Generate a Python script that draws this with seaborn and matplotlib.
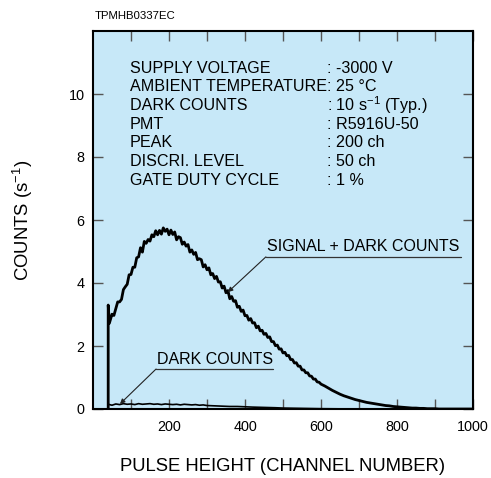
import matplotlib
matplotlib.use("Agg")
import matplotlib.pyplot as plt
import seaborn as sns

# pulse height channels and counts (s-1)
signal_channel = [40, 40, 43] + list(range(50, 601, 5)) + list(range(610, 1001, 10))
signal_counts = [0.0, 3.3, 2.72,
                 3.01, 2.97, 3.18, 3.40, 3.40, 3.48, 3.79, 3.88, 3.96, 4.26,
                 4.27, 4.50, 4.50, 4.80, 4.83, 5.12, 4.98, 5.32, 5.26, 5.38,
                 5.33, 5.53, 5.47, 5.66, 5.53, 5.67, 5.55, 5.75, 5.64, 5.71,
                 5.53, 5.68, 5.54, 5.62, 5.37, 5.47, 5.44, 5.23, 5.30, 5.17,
                 5.22, 4.98, 5.05, 4.91, 4.97, 4.74, 4.77, 4.74, 4.51, 4.58,
                 4.42, 4.48, 4.26, 4.30, 4.14, 4.21, 4.03, 4.04, 3.84, 3.90,
                 3.69, 3.76, 3.50, 3.57, 3.42, 3.44, 3.23, 3.26, 3.10, 3.14,
                 2.96, 2.97, 2.82, 2.87, 2.73, 2.74, 2.58, 2.63, 2.48, 2.50,
                 2.37, 2.40, 2.27, 2.29, 2.14, 2.14, 2.01, 2.03, 1.90, 1.91,
                 1.78, 1.80, 1.69, 1.70, 1.57, 1.57, 1.46, 1.47, 1.36, 1.36,
                 1.24, 1.24, 1.15, 1.15, 1.05, 1.04, 0.95, 0.95, 0.86, 0.85,
                 0.79,
                 0.73, 0.66, 0.59, 0.53, 0.47, 0.42, 0.38, 0.34, 0.30, 0.27,
                 0.24, 0.21, 0.19, 0.17, 0.15, 0.13, 0.11, 0.10, 0.08, 0.07,
                 0.06, 0.05, 0.04, 0.03, 0.03, 0.02, 0.02, 0.01, 0.01, 0.01,
                 0.0, 0.0, 0.0, 0.0, 0.0, 0.0, 0.0, 0.0, 0.0, 0.0]

dark_channel = [40, 40, 50, 60, 70, 80, 90, 100, 110, 120, 130, 140, 150, 160,
                170, 180, 190, 200, 210, 220, 230, 240, 250, 260, 270, 280, 290,
                300, 320, 340, 360, 380, 400, 420, 450, 480, 500, 550, 600, 700,
                1000]
dark_counts = [0.0, 0.15, 0.12, 0.16, 0.14, 0.17, 0.15, 0.16, 0.14, 0.17, 0.15,
               0.16, 0.17, 0.15, 0.16, 0.14, 0.16, 0.15, 0.14, 0.15, 0.13, 0.15,
               0.14, 0.13, 0.14, 0.12, 0.13, 0.11, 0.10, 0.09, 0.08, 0.08, 0.07,
               0.06, 0.05, 0.04, 0.03, 0.02, 0.01, 0.0, 0.0]

cond_labels = ["SUPPLY VOLTAGE", "AMBIENT TEMPERATURE", "DARK COUNTS", "PMT",
               "PEAK", "DISCRI. LEVEL", "GATE DUTY CYCLE"]
cond_values = [": -3000 V", ": 25 °C", r": 10 s$^{\mathregular{-1}}$ (Typ.)",
               ": R5916U-50", ": 200 ch", ": 50 ch", ": 1 %"]

sns.set_theme(style="ticks")
plt.rcParams["font.family"] = ["Liberation Sans", "DejaVu Sans"]
plt.rcParams["mathtext.fontset"] = "custom"
plt.rcParams["mathtext.rm"] = "Liberation Sans"
plt.rcParams["text.color"] = "black"
plt.rcParams["axes.labelcolor"] = "black"
plt.rcParams["xtick.labelcolor"] = "black"
plt.rcParams["ytick.labelcolor"] = "black"

fig = plt.figure(figsize=(4.91, 4.78), dpi=100)
ax = fig.add_axes([93 / 491, 1 - 409 / 478, 380 / 491, 378 / 478])
ax.set_facecolor("#c7e8f8")

sns.lineplot(x=signal_channel, y=signal_counts, estimator=None, sort=False,
             color="black", lw=2.0, ax=ax)
sns.lineplot(x=dark_channel, y=dark_counts, estimator=None, sort=False,
             color="black", lw=1.2, ax=ax)

ax.set_xlim(0, 1000)
ax.set_ylim(0, 12)
xt = list(range(100, 1001, 100))
ax.set_xticks(xt)
ax.set_xticklabels([str(v) if v % 200 == 0 else "" for v in xt])
ax.set_yticks([0, 2, 4, 6, 8, 10])
ax.tick_params(direction="in", length=7, width=1, color="#555555",
               top=True, right=True, labelsize=10.4, pad=6)
ax.tick_params(axis="x", pad=8)
for s in ax.spines.values():
    s.set_linewidth(1.5)
    s.set_color("black")

ax.set_xlabel("PULSE HEIGHT (CHANNEL NUMBER)", fontsize=13.3, labelpad=17)
ax.set_ylabel(r"COUNTS (s$^{\mathregular{-1}}$)", fontsize=13.3, labelpad=24)

# measurement conditions
for i, (lab, val) in enumerate(zip(cond_labels, cond_values)):
    yy = 10.82 - i * 0.593
    ax.text(97, yy, lab, fontsize=11.6, va="center", ha="left")
    ax.text(616, yy, val, fontsize=11.6, va="center", ha="left")

# curve labels with leaders
ax.text(457, 5.17, "SIGNAL + DARK COUNTS", fontsize=11.5, va="center")
ax.plot([455, 968], [4.83, 4.83], color="#333333", lw=0.9)
ax.annotate("", xy=(355, 3.71), xytext=(455, 4.83),
            arrowprops=dict(arrowstyle="-|>", lw=0.8, color="#222222",
                            mutation_scale=7, shrinkA=0, shrinkB=0))

ax.text(168, 1.57, "DARK COUNTS", fontsize=11.5, va="center")
ax.plot([166, 474], [1.27, 1.27], color="#333333", lw=0.9)
ax.annotate("", xy=(71, 0.16), xytext=(166, 1.27),
            arrowprops=dict(arrowstyle="-|>", lw=0.8, color="#222222",
                            mutation_scale=7, shrinkA=0, shrinkB=0))

fig.text(95 / 491, 1 - 16 / 478, "TPMHB0337EC", fontsize=8.2, va="center")

fig.savefig("out.png", dpi=100)
